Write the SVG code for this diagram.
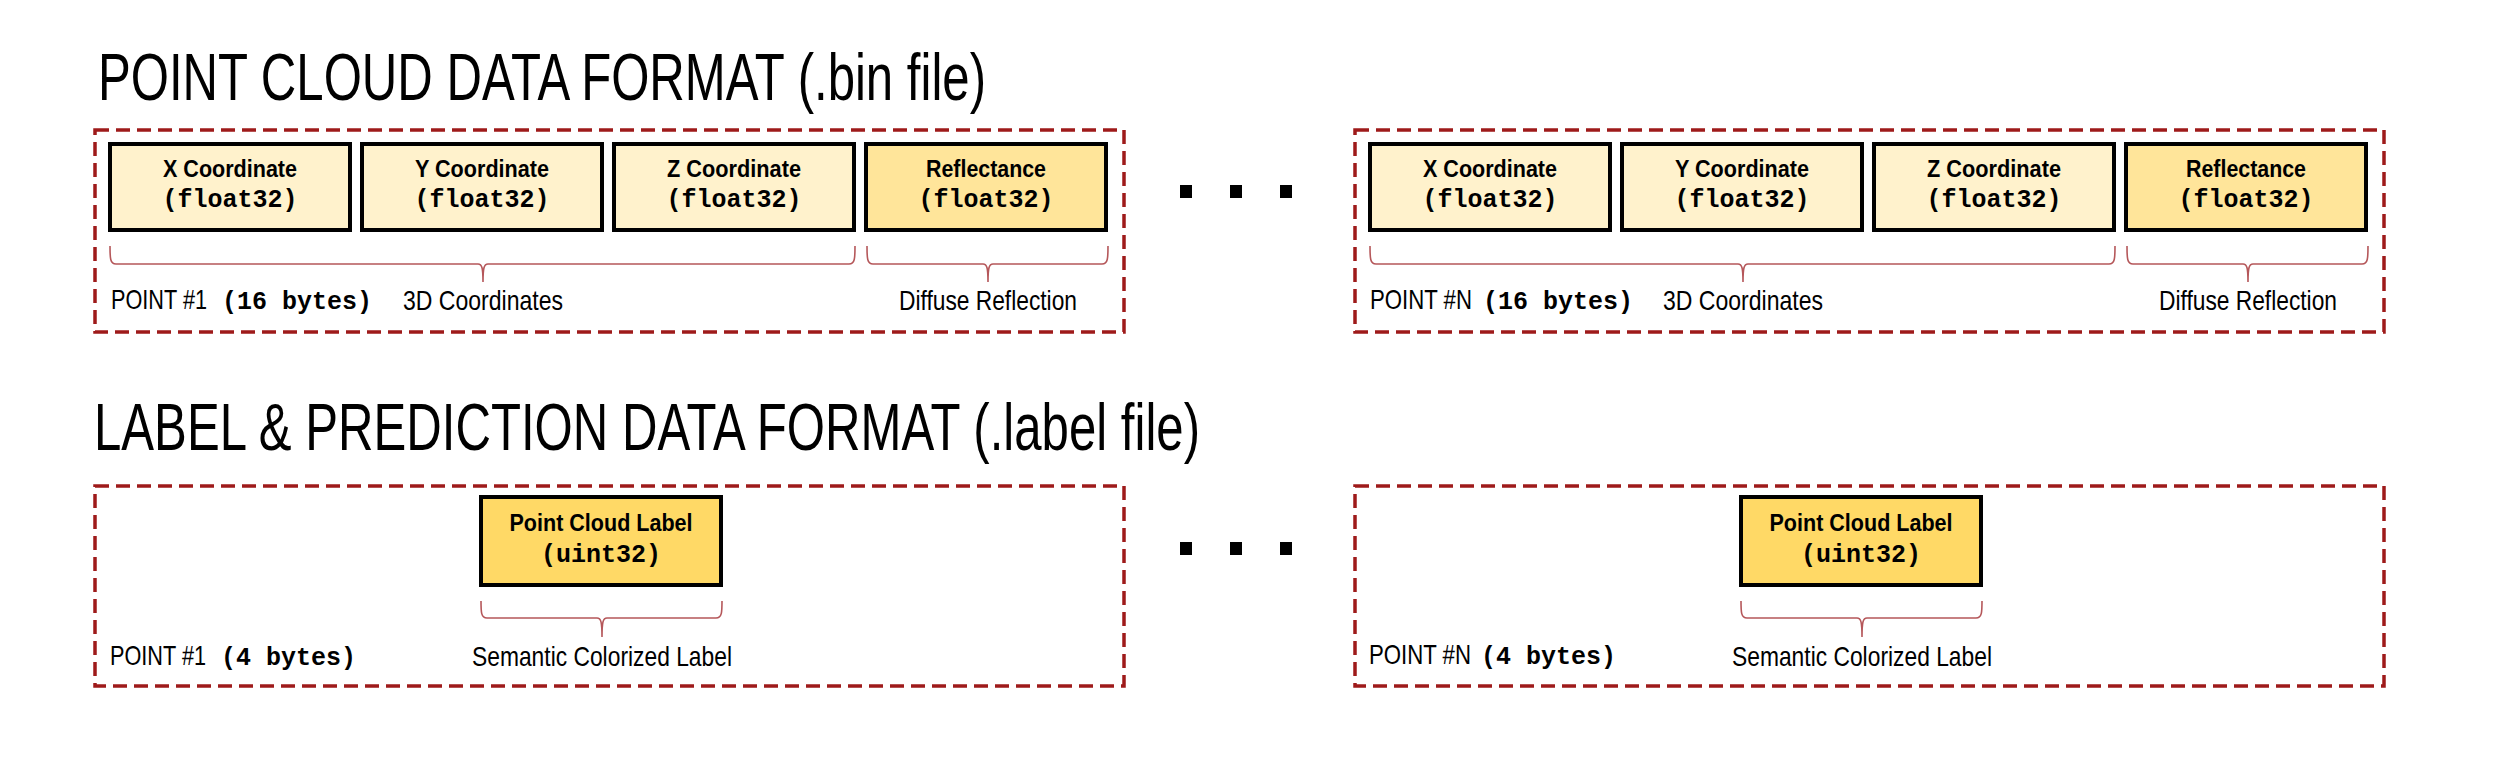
<svg xmlns="http://www.w3.org/2000/svg" width="2519" height="759" viewBox="0 0 2519 759">
<style>
.title{font-family:"Liberation Sans",Arial,sans-serif;font-size:66px;fill:#000}
.fld{font-family:"Liberation Sans",Arial,sans-serif;font-weight:bold;font-size:24px;text-anchor:middle;fill:#000}
.mono{font-family:"Liberation Mono","Courier New",monospace;font-weight:bold;font-size:25px;fill:#000}
.monoc{font-family:"Liberation Mono","Courier New",monospace;font-weight:bold;font-size:25px;text-anchor:middle;fill:#000}
.lbl{font-family:"Liberation Sans",Arial,sans-serif;font-size:28px;fill:#000}
.lblc{font-family:"Liberation Sans",Arial,sans-serif;font-size:28px;text-anchor:middle;fill:#000}
.rec{fill:none;stroke:#9E1A1A;stroke-width:3.5;stroke-dasharray:14 7}
.box{stroke:#000;stroke-width:4}
.light{fill:#FFF2CC}
.mid{fill:#FFE59A}
.strong{fill:#FFD966}
.brace{fill:none;stroke:#B5575A;stroke-width:1.6}
.dot{fill:#000}
</style>
<rect width="2519" height="759" fill="#fff"/>

<g id="title-bin"><text class="title" x="98" y="100" textLength="888" lengthAdjust="spacingAndGlyphs">POINT CLOUD DATA FORMAT (.bin file)</text></g>
<g id="title-label"><text class="title" x="94" y="450" textLength="1106" lengthAdjust="spacingAndGlyphs">LABEL &amp; PREDICTION DATA FORMAT (.label file)</text></g>

<!-- Point #1 record -->
<g id="point1">
  <rect class="rec" x="95" y="130" width="1029" height="202"/>
  <g id="p1-x"><rect class="box light" x="110" y="144" width="240" height="86"/>
    <text class="fld" x="230" y="177" textLength="134" lengthAdjust="spacingAndGlyphs">X Coordinate</text>
    <text class="monoc" x="230" y="207">(float32)</text></g>
  <g id="p1-y"><rect class="box light" x="362" y="144" width="240" height="86"/>
    <text class="fld" x="482" y="177" textLength="134" lengthAdjust="spacingAndGlyphs">Y Coordinate</text>
    <text class="monoc" x="482" y="207">(float32)</text></g>
  <g id="p1-z"><rect class="box light" x="614" y="144" width="240" height="86"/>
    <text class="fld" x="734" y="177" textLength="134" lengthAdjust="spacingAndGlyphs">Z Coordinate</text>
    <text class="monoc" x="734" y="207">(float32)</text></g>
  <g id="p1-r"><rect class="box mid" x="866" y="144" width="240" height="86"/>
    <text class="fld" x="986" y="177" textLength="120" lengthAdjust="spacingAndGlyphs">Reflectance</text>
    <text class="monoc" x="986" y="207">(float32)</text></g>
  <text class="lbl" x="111" y="309" textLength="96" lengthAdjust="spacingAndGlyphs">POINT #1</text>
  <text class="mono" x="222" y="309">(16 bytes)</text>
  <text class="lblc" x="483" y="310" textLength="160" lengthAdjust="spacingAndGlyphs">3D Coordinates</text>
  <text class="lblc" x="988" y="310" textLength="178" lengthAdjust="spacingAndGlyphs">Diffuse Reflection</text>
</g>

<!-- Point #N record -->
<g id="pointN">
  <rect class="rec" x="1355" y="130" width="1029" height="202"/>
  <g id="pN-x"><rect class="box light" x="1370" y="144" width="240" height="86"/>
    <text class="fld" x="1490" y="177" textLength="134" lengthAdjust="spacingAndGlyphs">X Coordinate</text>
    <text class="monoc" x="1490" y="207">(float32)</text></g>
  <g id="pN-y"><rect class="box light" x="1622" y="144" width="240" height="86"/>
    <text class="fld" x="1742" y="177" textLength="134" lengthAdjust="spacingAndGlyphs">Y Coordinate</text>
    <text class="monoc" x="1742" y="207">(float32)</text></g>
  <g id="pN-z"><rect class="box light" x="1874" y="144" width="240" height="86"/>
    <text class="fld" x="1994" y="177" textLength="134" lengthAdjust="spacingAndGlyphs">Z Coordinate</text>
    <text class="monoc" x="1994" y="207">(float32)</text></g>
  <g id="pN-r"><rect class="box mid" x="2126" y="144" width="240" height="86"/>
    <text class="fld" x="2246" y="177" textLength="120" lengthAdjust="spacingAndGlyphs">Reflectance</text>
    <text class="monoc" x="2246" y="207">(float32)</text></g>
  <text class="lbl" x="1370" y="309" textLength="102" lengthAdjust="spacingAndGlyphs">POINT #N</text>
  <text class="mono" x="1483" y="309">(16 bytes)</text>
  <text class="lblc" x="1743" y="310" textLength="160" lengthAdjust="spacingAndGlyphs">3D Coordinates</text>
  <text class="lblc" x="2248" y="310" textLength="178" lengthAdjust="spacingAndGlyphs">Diffuse Reflection</text>
</g>

<!-- Label #1 record -->
<g id="label1">
  <rect class="rec" x="95" y="486" width="1029" height="200"/>
  <g id="l1-box"><rect class="box strong" x="481" y="497" width="240" height="88"/>
    <text class="fld" x="601" y="531" textLength="183" lengthAdjust="spacingAndGlyphs">Point Cloud Label</text>
    <text class="monoc" x="601" y="562">(uint32)</text></g>
  <text class="lbl" x="110" y="665" textLength="96" lengthAdjust="spacingAndGlyphs">POINT #1</text>
  <text class="mono" x="221" y="665">(4 bytes)</text>
  <text class="lblc" x="602" y="666" textLength="260" lengthAdjust="spacingAndGlyphs">Semantic Colorized Label</text>
</g>

<!-- Label #N record -->
<g id="labelN">
  <rect class="rec" x="1355" y="486" width="1029" height="200"/>
  <g id="lN-box"><rect class="box strong" x="1741" y="497" width="240" height="88"/>
    <text class="fld" x="1861" y="531" textLength="183" lengthAdjust="spacingAndGlyphs">Point Cloud Label</text>
    <text class="monoc" x="1861" y="562">(uint32)</text></g>
  <text class="lbl" x="1369" y="664" textLength="102" lengthAdjust="spacingAndGlyphs">POINT #N</text>
  <text class="mono" x="1481" y="664">(4 bytes)</text>
  <text class="lblc" x="1862" y="666" textLength="260" lengthAdjust="spacingAndGlyphs">Semantic Colorized Label</text>
</g>

<!-- ellipses -->
<g id="ellipsis-1">
  <rect class="dot" x="1180" y="185" width="12" height="13"/>
  <rect class="dot" x="1230" y="185" width="12" height="13"/>
  <rect class="dot" x="1280" y="185" width="12" height="13"/>
</g>
<g id="ellipsis-2">
  <rect class="dot" x="1180" y="542" width="12" height="13"/>
  <rect class="dot" x="1230" y="542" width="12" height="13"/>
  <rect class="dot" x="1280" y="542" width="12" height="13"/>
</g>

<!-- braces -->
<g id="connectors">
  <path class="brace" d="M110,246 C110,258 110,264 116,264 L478,264 C482,264 483,268 483,282 C483,268 484,264 488,264 L849,264 C855,264 855,258 855,246"/>
  <path class="brace" d="M867,246 C867,258 867,264 873,264 L983,264 C987,264 988,268 988,282 C988,268 989,264 993,264 L1102,264 C1108,264 1108,258 1108,246"/>
  <path class="brace" d="M1370,246 C1370,258 1370,264 1376,264 L1738,264 C1742,264 1743,268 1743,282 C1743,268 1744,264 1748,264 L2109,264 C2115,264 2115,258 2115,246"/>
  <path class="brace" d="M2127,246 C2127,258 2127,264 2133,264 L2243,264 C2247,264 2248,268 2248,282 C2248,268 2249,264 2253,264 L2362,264 C2368,264 2368,258 2368,246"/>
  <path class="brace" d="M481,601 C481,612 481,618 487,618 L597,618 C601,618 602,622 602,637 C602,622 603,618 607,618 L716,618 C722,618 722,612 722,601"/>
  <path class="brace" d="M1741,601 C1741,612 1741,618 1747,618 L1857,618 C1861,618 1862,622 1862,637 C1862,622 1863,618 1867,618 L1976,618 C1982,618 1982,612 1982,601"/>
</g>
</svg>
